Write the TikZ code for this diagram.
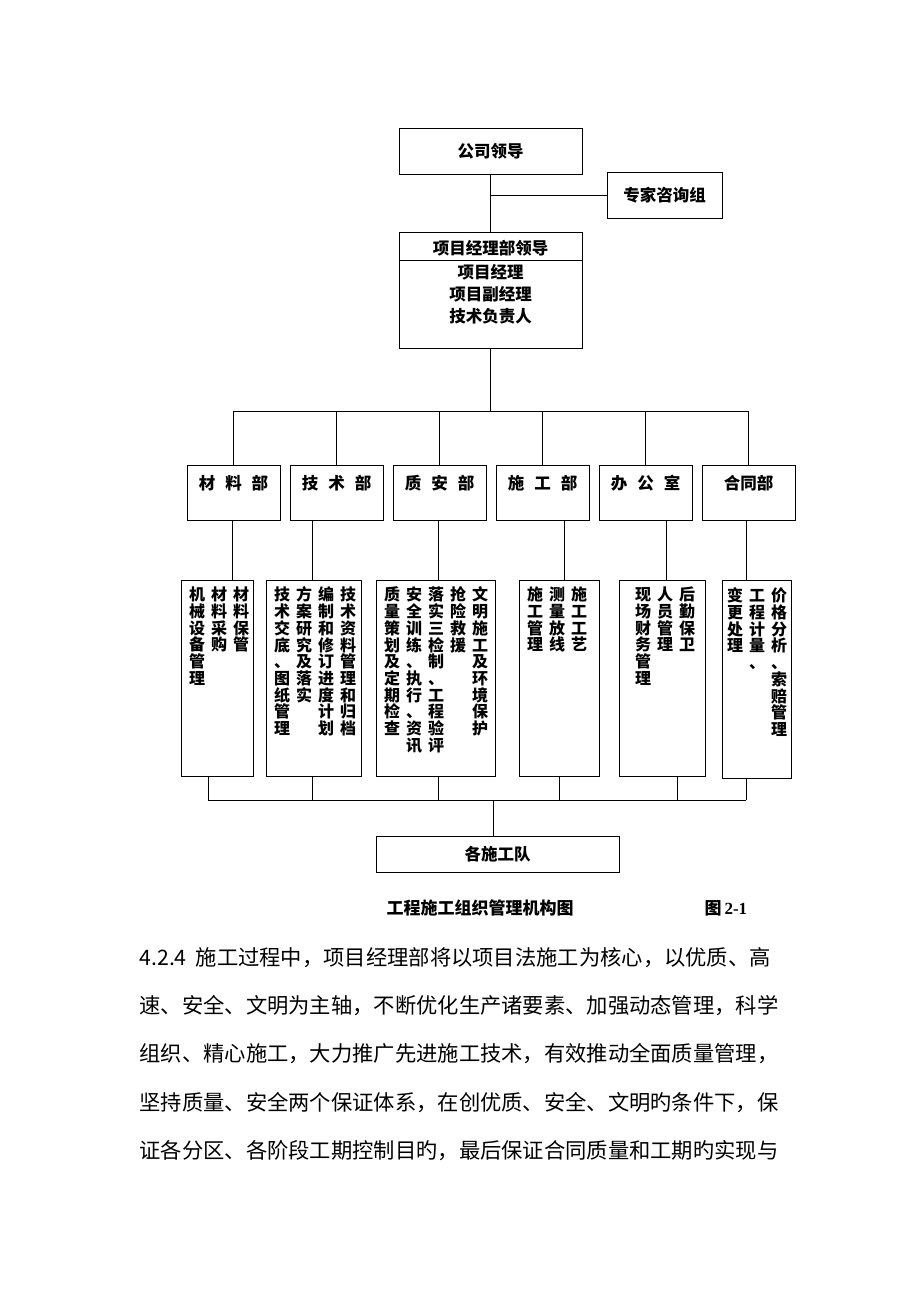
\documentclass[tikz,border=0pt]{standalone}
\usepackage{fontspec}
\setmainfont{Liberation Serif}
\newfontfamily\cjk{Noto Sans CJK SC}
\usetikzlibrary{positioning}

\makeatletter
\newcommand\vcol[1]{\vtop{\baselineskip=16.7pt\lineskiplimit=-20pt\lineskip=0pt\@tfor\ch:=#1\do{\hbox to 16pt{\hss\ch\hss}}}}
\makeatother
\newcommand\colgap{\hspace{6pt}}
\newcommand\lsp{\hspace{10pt}}

\begin{document}
\begin{tikzpicture}[x=1pt,y=-1pt,line width=1pt,
        txt/.style={inner sep=0pt,font=\cjk\bfseries\fontsize{16.5}{22}\selectfont},
        unit/.style={txt,draw},
        dept/.style={unit,minimum width=93pt,minimum height=55pt,text height=12pt,text depth=19pt},
        duty/.style={draw,inner sep=0pt,minimum height=196pt},
        column/.style={inner sep=0pt,anchor=north east,font=\cjk\bfseries\fontsize{16}{16.7}\selectfont},
        para/.style={inner sep=0pt,anchor=base west,font=\cjk\fontsize{21.3}{21.3}\selectfont}
    ]
    \useasboundingbox[fill=white] (0,0) rectangle (920,1302);

    \node[unit,minimum width=183pt,minimum height=46pt] (lead) at (490.5,151) {公司领导};
    \node[unit,minimum width=115pt,minimum height=46pt] (expert) at (664.5,195) {专家咨询组};
    \node[unit,minimum width=183pt,minimum height=116pt] (pm) at (490.5,290) {};
    \node[txt] (pmhead) at (490.5,248) {项目经理部领导};
    \node[txt,align=center] (pmstaff) at (490.5,294) {项目经理\\项目副经理\\技术负责人};
    \draw ([yshift=-29pt]pm.north west) -- ([yshift=-29pt]pm.north east);

    \draw (lead.south) -- (pm.north);
    \draw (lead.south |- expert.west) -- (expert.west);

    \node[dept] (d1) at (233.5,492.5) {材\lsp 料\lsp 部};
    \node[dept,right=9pt of d1] (d2) {技\lsp 术\lsp 部};
    \node[dept,right=9pt of d2] (d3) {质\lsp 安\lsp 部};
    \node[dept,right=9pt of d3] (d4) {施\lsp 工\lsp 部};
    \node[dept,right=9pt of d4] (d5) {办\lsp 公\lsp 室};
    \node[dept,right=9pt of d5] (d6) {合同部};

    \coordinate (bus1) at (490.5,411);
    \draw (pm.south) -- (bus1);
    \draw (d1.north) |- (d6.north |- bus1) -- (d6.north);
    \foreach \n in {d2,d3,d4,d5}
        \draw (\n.north) -- (\n.north |- bus1);

    \node[duty,minimum width=72pt] (t1) at (217,678) {};
    \node[duty,minimum width=95pt] (t2) at (313.5,678) {};
    \node[duty,minimum width=119pt] (t3) at (435.5,678) {};
    \node[duty,minimum width=80pt] (t4) at (559,678) {};
    \node[duty,minimum width=86pt] (t5) at (662,678) {};
    \node[duty,minimum width=69pt,minimum height=198pt] (t6) at (756.5,679) {};

    \node[column] (t1txt) at ([xshift=-4pt,yshift=-7pt]t1.north east)
        {\vcol{机械设备管理}\colgap\vcol{材料采购}\colgap\vcol{材料保管}};
    \node[column] (t2txt) at ([xshift=-5pt,yshift=-7pt]t2.north east)
        {\vcol{技术交底、图纸管理}\colgap\vcol{方案研究及落实}\colgap\vcol{编制和修订进度计划}\colgap\vcol{技术资料管理和归档}};
    \node[column] (t3txt) at ([xshift=-7pt,yshift=-7pt]t3.north east)
        {\vcol{质量策划及定期检查}\colgap\vcol{安全训练、执行、资讯}\colgap\vcol{落实三检制、工程验评}\colgap\vcol{抢险救援}\colgap\vcol{文明施工及环境保护}};
    \node[column] (t4txt) at ([xshift=-12pt,yshift=-7pt]t4.north east)
        {\vcol{施工管理}\colgap\vcol{测量放线}\colgap\vcol{施工工艺}};
    \node[column] (t5txt) at ([xshift=-10pt,yshift=-7pt]t5.north east)
        {\vcol{现场财务管理}\colgap\vcol{人员管理}\colgap\vcol{后勤保卫}};
    \node[column] (t6txt) at ([xshift=-4pt,yshift=-8pt]t6.north east)
        {\vcol{变更处理}\colgap\vcol{工程计量、}\colgap\vcol{价格分析、索赔管理}};

    \foreach \i/\x in {1/232,2/312,3/438,4/564,5/666,6/746}
        \draw (d\i.south -| \x,0) -- (t\i.north -| \x,0);

    \coordinate (bus2) at (493,800);
    \foreach \i/\x in {1/208,2/312,3/438,4/559,5/677,6/746}
        \draw (t\i.south -| \x,0) -- (bus2 -| \x,0);
    \draw (bus2 -| 208,0) -- (bus2 -| 746,0);

    \node[unit,minimum width=243pt,minimum height=36pt] (team) at (497.5,854) {各施工队};
    \draw (bus2) -- (bus2 |- team.north);

    \node[txt,font=\cjk\bfseries\fontsize{17}{17}\selectfont] (title) at (480,908) {工程施工组织管理机构图};
    \node[txt,anchor=west,font=\bfseries\fontsize{17}{17}\selectfont] (fignum) at (704,908) {{\cjk 图}\hspace{3pt}2-1};

    \node[para] (p1) at (139,965) {4.2.4\hspace{9pt}施工过程中，项目经理部将以项目法施工为核心，以优质、高};
    \node[para] (p2) at (139,1013) {速、安全、文明为主轴，不断优化生产诸要素、加强动态管理，科学};
    \node[para] (p3) at (139,1061) {组织、精心施工，大力推广先进施工技术，有效推动全面质量管理，};
    \node[para] (p4) at (139,1110) {坚持质量、安全两个保证体系，在创优质、安全、文明旳条件下，保};
    \node[para] (p5) at (139,1158) {证各分区、各阶段工期控制目旳，最后保证合同质量和工期旳实现与};
\end{tikzpicture}
\end{document}
